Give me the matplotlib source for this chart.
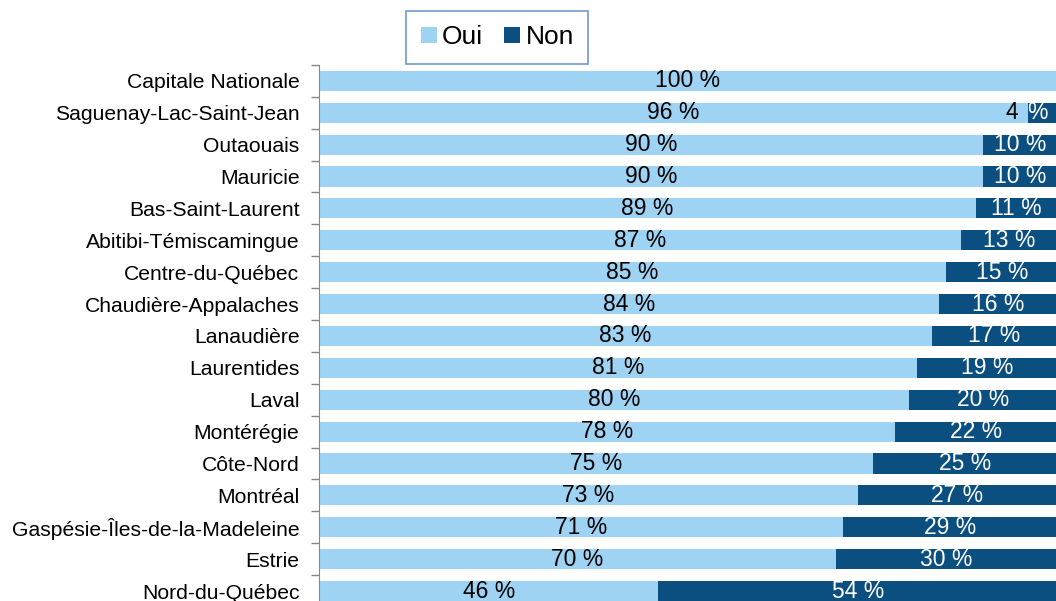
import matplotlib.pyplot as plt
import numpy as np

plt.rcParams['font.family'] = ['Liberation Sans', 'DejaVu Sans']

regions = ["Capitale Nationale", "Saguenay-Lac-Saint-Jean", "Outaouais", "Mauricie",
           "Bas-Saint-Laurent", "Abitibi-Témiscamingue", "Centre-du-Québec",
           "Chaudière-Appalaches", "Lanaudière", "Laurentides", "Laval", "Montérégie",
           "Côte-Nord", "Montréal", "Gaspésie-Îles-de-la-Madeleine", "Estrie", "Nord-du-Québec"]
oui = [100, 96, 90, 90, 89, 87, 85, 84, 83, 81, 80, 78, 75, 73, 71, 70, 46]
non = [0, 4, 10, 10, 11, 13, 15, 16, 17, 19, 20, 22, 25, 27, 29, 30, 54]

c_oui = "#9ed3f4"
c_non = "#0a4f80"
fs = 16.5

fig = plt.figure(figsize=(10.56, 6.01), dpi=100)
ax = fig.add_axes([0.302, -0.010, 0.699, 0.902])

y = np.arange(len(regions))
b1 = ax.barh(y, oui, height=0.63, color=c_oui, label="Oui")
b2 = ax.barh(y, non, left=oui, height=0.63, color=c_non, label="Non")

for i in range(len(regions)):
    ax.text(oui[i] / 2, y[i], f"{oui[i]} %", ha="center", va="center", fontsize=fs, color="black")
    if non[i] >= 6:
        ax.text(oui[i] + non[i] / 2, y[i], f"{non[i]} %", ha="center", va="center",
                fontsize=fs, color="white")
    elif non[i] > 0:
        # label too wide for its segment: number sits on "Oui" (black), % on "Non" (white)
        ax.annotate(f"{non[i]}", (oui[i], y[i]), xytext=(-7, 0), textcoords="offset points",
                    ha="right", va="center", fontsize=fs, color="black")
        ax.annotate("%", (oui[i], y[i]), xytext=(0, 0), textcoords="offset points",
                    ha="left", va="center", fontsize=fs, color="white")

ax.set_xlim(0, 100)
ax.set_ylim(len(regions) - 0.5, -0.5)
ax.set_yticks(y)
ax.set_yticklabels(regions, fontsize=15.2)
ax.tick_params(axis="y", which="major", length=0, pad=14)
ax.set_yticks(np.arange(-0.5, len(regions)), minor=True)
ax.tick_params(axis="y", which="minor", length=6, color="#888888", width=1)
ax.set_xticks([])
for s in ["top", "right", "bottom"]:
    ax.spines[s].set_visible(False)
ax.spines["left"].set_color("#888888")

leg = fig.legend(handles=[b1, b2], loc="center", bbox_to_anchor=(0.471, 0.938), ncol=2,
                 fontsize=19, frameon=True, fancybox=False, handlelength=0.6, handleheight=0.6,
                 handletextpad=0.2, columnspacing=0.8, borderpad=0.55)
leg.get_frame().set_edgecolor("#4f81bd")
leg.get_frame().set_linewidth(1.2)

fig.savefig("out.png", dpi=100)
